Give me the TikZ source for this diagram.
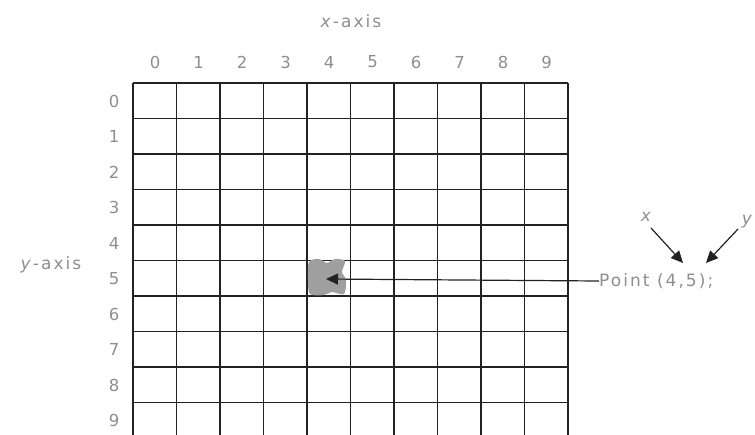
\documentclass[tikz,border=0pt]{standalone}
\usepackage{fontspec}
\setmainfont{DejaVu Sans}
\usetikzlibrary{arrows.meta}
\definecolor{txt}{HTML}{8E8E8E}
\definecolor{gridc}{HTML}{222222}
\newfontfamily\hand[LetterSpace=12]{DejaVu Sans}
\tikzset{
  lbl/.style={text=txt, inner sep=0pt, font=\hand\fontsize{16.5}{18}\selectfont},
  big/.style={font=\hand\fontsize{17}{19}\selectfont},
  gridline/.style={draw=gridc, line width=1.8pt},
  ptr/.style={draw=gridc, line width=1.2pt, -{Triangle[length=12pt,width=11pt]}},
  blob/.style={minimum width=36pt, minimum height=35pt, inner sep=0pt}
}
\begin{document}
\begin{tikzpicture}[x=1pt,y=-1pt]
\useasboundingbox (0,0) rectangle (755,434);
\begin{scope}
\clip (0,0) rectangle (755,434);
\foreach \i in {0,...,10} { \draw[gridline] ({133+43.5*\i},83) -- ({133+43.5*\i},440); }
\foreach \j in {0,...,9} { \draw[gridline] (133,{83+35.5*\j}) -- (568,{83+35.5*\j}); }
\end{scope}
\node[blob] (dot) at (327,277) {};
\fill[gray!75] plot[smooth cycle, tension=0.5] coordinates {(309,262) (319,259) (327,263) (335,259) (345,261) (342,272) (346,280) (344,294) (332,292) (324,295) (310,294) (308,280)};
\node[lbl, big] (xaxis) at (351,21) {\textit{x}-axis};
\node[lbl, big] (yaxis) at (51,265) {\textit{y}-axis};
\foreach \i in {0,...,9} {
  \node[lbl] (cx\i) at ({155+43.5*\i},62) {\i};
  \node[lbl] (ry\i) at (114,{101+35.5*\i}) {\i};
}
\node[lbl, big, anchor=west] (pt) at (599,281) {Point (4,5);};
\coordinate (tip) at (326,279);
\draw[ptr] (pt.west) -- (tip);
\node[lbl, big] (xl) at (647,217) {\textit{x}};
\node[lbl, big] (yl) at (748,222) {\textit{y}};
\coordinate (xa) at (683,263);
\coordinate (ya) at (706,263);
\draw[ptr] (651,228) -- (xa);
\draw[ptr] (738,229) -- (ya);
\end{tikzpicture}
\end{document}
